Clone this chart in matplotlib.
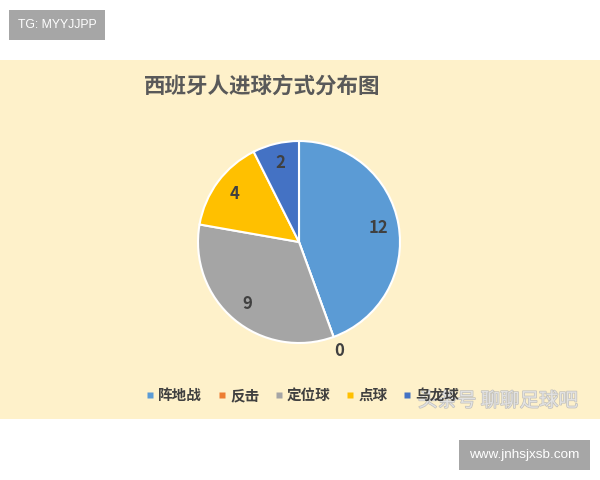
import numpy as np
import matplotlib
matplotlib.use("Agg")
import matplotlib.pyplot as plt
from matplotlib.lines import Line2D
from matplotlib.patches import Rectangle
import matplotlib.patheffects as pe

plt.rcParams['font.family'] = ['Noto Sans CJK SC', 'DejaVu Sans']

categories = ['阵地战', '反击', '定位球', '点球', '乌龙球']
values = [12, 0, 9, 4, 2]
colors = ['#5B9BD5', '#ED7D31', '#A5A5A5', '#FFC000', '#4472C4']
title = '西班牙人进球方式分布图'

W, H = 600, 480
fig = plt.figure(figsize=(6, 4.8), dpi=100)
fig.patch.set_facecolor('white')

def fx(x): return x / W
def fy(y): return 1 - y / H

# beige panel
fig.patches.append(Rectangle((0, fy(419)), 1, fy(60) - fy(419), transform=fig.transFigure,
                             facecolor='#FEF1CA', edgecolor='none', zorder=-2))

# top-left tag box
fig.patches.append(Rectangle((fx(9), fy(40)), fx(96), fy(10) - fy(40), transform=fig.transFigure,
                             facecolor='#A6A6A6', edgecolor='none', zorder=-1))
fig.text(fx(57), fy(25.5), 'TG: MYYJJPP', color='white', fontsize=8.8, ha='center', va='center',
         family=['Liberation Sans'])

# bottom-right url box
fig.patches.append(Rectangle((fx(459), fy(470)), fx(131), fy(440) - fy(470), transform=fig.transFigure,
                             facecolor='#A6A6A6', edgecolor='none', zorder=-1))
fig.text(fx(524.5), fy(455), 'www.jnhsjxsb.com', color='white', fontsize=9.7, ha='center', va='center',
         family=['Liberation Sans'])

# title
fig.text(fx(262), fy(87), title, fontsize=15.5, color='#595959', ha='center', va='center', weight='bold')

# pie
cx, cy, r = 299, 242, 101
ax = fig.add_axes([fx(cx - r), fy(cy + r), 2 * r / W, 2 * r / H])
ax.set_zorder(1)
wedges, texts = ax.pie(values, colors=colors, startangle=90, counterclock=False,
                       labels=[str(v) for v in values], labeldistance=0.8,
                       wedgeprops=dict(edgecolor='white', linewidth=1.5),
                       textprops=dict(fontsize=12, weight='bold', color='#404040',
                                      ha='center', va='center'))
for w, t, v in zip(wedges, texts, values):
    t.set_ha('center'); t.set_va('center'); t.set_clip_on(False)
    if v == 0:
        ang = np.deg2rad((w.theta1 + w.theta2) / 2)
        t.set_position((1.15 * np.cos(ang), 1.15 * np.sin(ang)))
ax.set_xlim(-1, 1)
ax.set_ylim(-1, 1)
ax.set_aspect('equal')
ax.axis('off')

# legend
handles = [Line2D([], [], marker='s', linestyle='none', markersize=4.5, markerfacecolor=c,
                  markeredgecolor='none') for c in colors]
leg = fig.legend(handles, categories, ncol=5, loc='center', bbox_to_anchor=(fx(303), fy(395)),
                 frameon=False, handlelength=0.5, handletextpad=0.3, columnspacing=1.1,
                 prop=dict(size=10.5, weight='bold'))
for t in leg.get_texts():
    t.set_color('#404040')

# watermark
fig.text(fx(418), fy(401), '头条号 聊聊足球吧', fontsize=14, color='#E8E8E8', alpha=0.85,
         ha='left', va='center', zorder=5,
         path_effects=[pe.withStroke(linewidth=1.0, foreground='#B8B8B8')])

fig.savefig('out.png', dpi=100, facecolor='white')
